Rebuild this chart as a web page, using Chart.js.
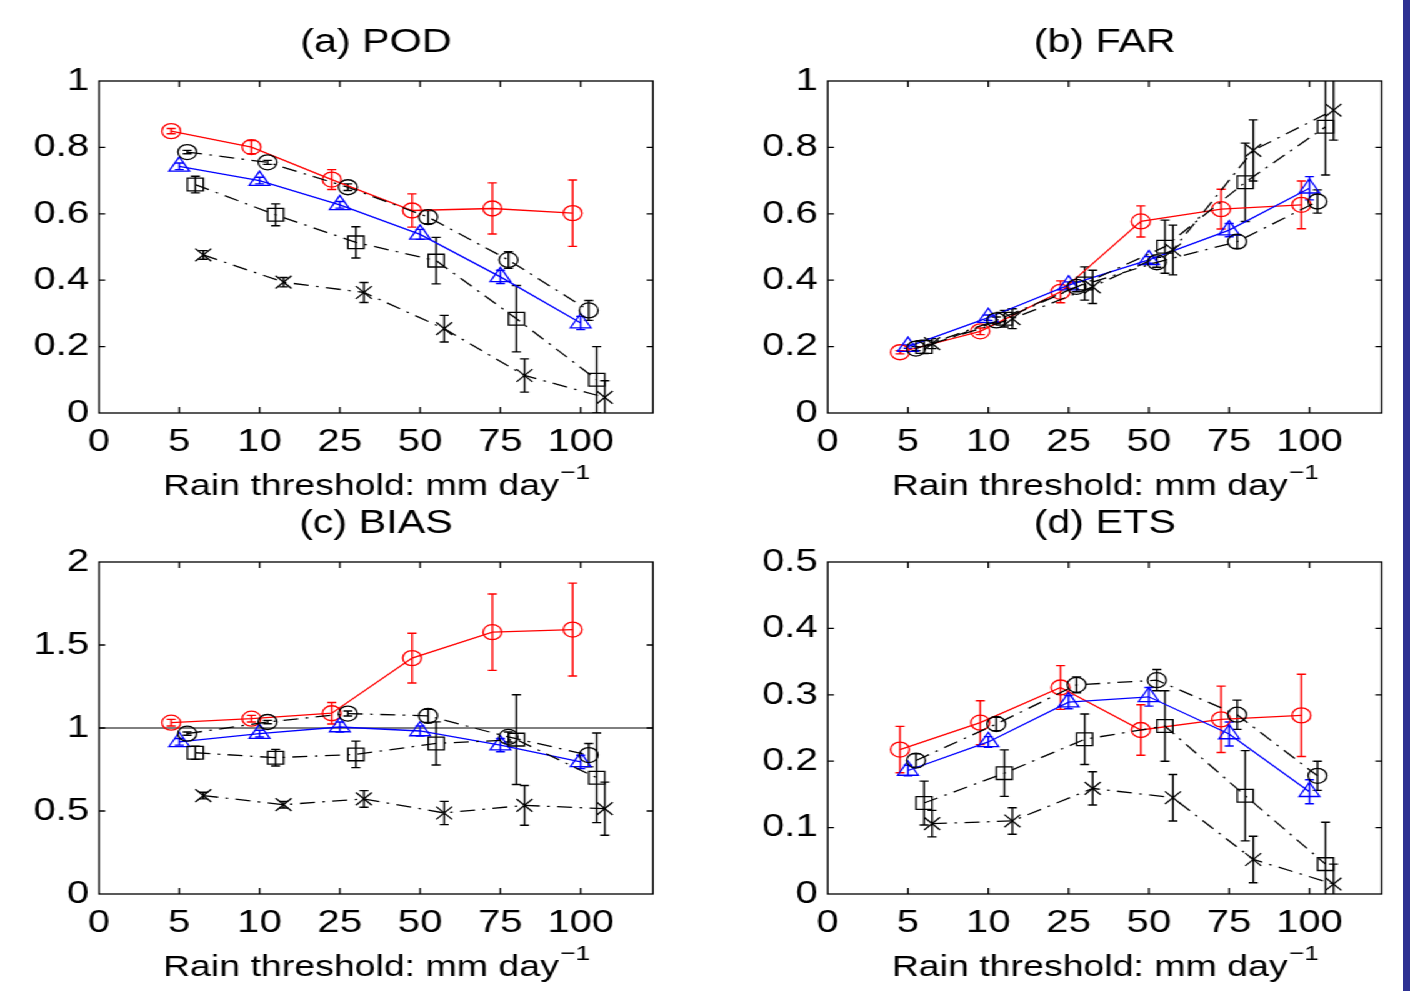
<!DOCTYPE html>
<html>
<head>
<meta charset="utf-8">
<script src="https://cdn.jsdelivr.net/npm/chart.js@4.4.1/dist/chart.umd.min.js"></script>
<style>
  html, body { margin: 0; padding: 0; background: #fff; }
  body { width: 1410px; height: 991px; overflow: hidden; position: relative; }
  /* the source figure is stretched sideways, so draw narrow and widen */
  #wrap { position: absolute; left: 0; top: 0; width: 1128px; height: 991px;
          transform: scaleX(1.25); transform-origin: 0 0; }
  .panel { position: absolute; width: 564px; height: 510px; }
  #edge { position: absolute; left: 1403px; top: 0; width: 7px; height: 991px; background: #2e3192; }
</style>
</head>
<body>
<div id="wrap">
  <div class="panel" style="left:0;top:0"><canvas id="pod"></canvas></div>
  <div class="panel" style="left:583.2px;top:0"><canvas id="far"></canvas></div>
  <div class="panel" style="left:0;top:481px"><canvas id="bias"></canvas></div>
  <div class="panel" style="left:583.2px;top:481px"><canvas id="ets"></canvas></div>
</div>
<div id="edge"></div>

<script>
const thresholds = ['0', '5', '10', '25', '50', '75', '100'];

// (a) POD
const podTicks = [0, 0.2, 0.4, 0.6, 0.8, 1];
const podRed = [0.849, 0.801, 0.703, 0.610, 0.616, 0.602];
const podRedErr = [0.008, 0.02, 0.03, 0.05, 0.077, 0.10];
const podBlue = [0.743, 0.700, 0.627, 0.538, 0.410, 0.271];
const podBlueErr = [0.01, 0.01, 0.01, 0.015, 0.02, 0.02];
const podCirc = [0.786, 0.755, 0.680, 0.590, 0.461, 0.309];
const podCircErr = [0.005, 0.006, 0.01, 0.02, 0.025, 0.03];
const podSq = [0.688, 0.597, 0.514, 0.459, 0.284, 0.100];
const podSqErr = [0.025, 0.033, 0.047, 0.07, 0.10, 0.10];
const podX = [0.476, 0.394, 0.363, 0.254, 0.113, 0.047];
const podXErr = [0.013, 0.014, 0.03, 0.04, 0.05, 0.05];

// (b) FAR
const farTicks = [0, 0.2, 0.4, 0.6, 0.8, 1];
const farRed = [0.183, 0.246, 0.365, 0.577, 0.614, 0.627];
const farRedErr = [0.005, 0.01, 0.033, 0.047, 0.06, 0.072];
const farBlue = [0.200, 0.287, 0.385, 0.461, 0.551, 0.677];
const farBlueErr = [0.005, 0.008, 0.01, 0.01, 0.02, 0.035];
const farCirc = [0.194, 0.279, 0.380, 0.454, 0.516, 0.637];
const farCircErr = [0.006, 0.01, 0.015, 0.015, 0.02, 0.035];
const farSq = [0.199, 0.284, 0.390, 0.501, 0.695, 0.862];
const farSqErr = [0.02, 0.025, 0.05, 0.08, 0.118, 0.145];
const farX = [0.209, 0.284, 0.380, 0.491, 0.791, 0.912];
const farXErr = [0.015, 0.03, 0.05, 0.075, 0.092, 0.09];

// (c) BIAS
const biasTicks = [0, 0.5, 1, 1.5, 2];
const biasRed = [1.032, 1.056, 1.089, 1.421, 1.577, 1.593];
const biasRedErr = [0.02, 0.02, 0.065, 0.15, 0.23, 0.28];
const biasBlue = [0.917, 0.966, 1.006, 0.982, 0.897, 0.796];
const biasBlueErr = [0.02, 0.02, 0.03, 0.03, 0.04, 0.04];
const biasCirc = [0.966, 1.036, 1.087, 1.073, 0.946, 0.837];
const biasCircErr = [0.01, 0.01, 0.015, 0.04, 0.03, 0.07];
const biasSq = [0.851, 0.821, 0.841, 0.907, 0.930, 0.700];
const biasSqErr = [0.04, 0.05, 0.08, 0.13, 0.27, 0.27];
const biasX = [0.593, 0.538, 0.573, 0.488, 0.534, 0.514];
const biasXErr = [0.02, 0.02, 0.05, 0.07, 0.12, 0.16];

// (d) ETS
const etsTicks = [0, 0.1, 0.2, 0.3, 0.4, 0.5];
const etsRed = [0.2175, 0.258, 0.311, 0.247, 0.263, 0.269];
const etsRedErr = [0.035, 0.033, 0.033, 0.038, 0.05, 0.062];
const etsBlue = [0.186, 0.229, 0.289, 0.297, 0.241, 0.154];
const etsBlueErr = [0.008, 0.008, 0.01, 0.014, 0.018, 0.018];
const etsCirc = [0.201, 0.256, 0.315, 0.322, 0.270, 0.178];
const etsCircErr = [0.01, 0.01, 0.012, 0.016, 0.022, 0.022];
const etsSq = [0.137, 0.182, 0.233, 0.253, 0.148, 0.045];
const etsSqErr = [0.033, 0.035, 0.038, 0.053, 0.068, 0.063];
const etsX = [0.106, 0.110, 0.159, 0.145, 0.052, 0.015];
const etsXErr = [0.02, 0.02, 0.025, 0.035, 0.035, 0.03];

const dashDot = [12, 6, 2, 6];
const seriesStyle = {
  red:  { color: '#ff0000', pointStyle: 'circle',   radius: 7.5, dash: [],      shift: -0.1 },
  blue: { color: '#0000ff', pointStyle: 'triangle', radius: 9.5, dash: [],      shift: 0 },
  circ: { color: '#000000', pointStyle: 'circle',   radius: 7.5, dash: dashDot, shift: 0.1 },
  sq:   { color: '#000000', pointStyle: 'rect',     radius: 9,   dash: dashDot, shift: 0.2 },
  x:    { color: '#000000', pointStyle: 'crossRot', radius: 9,   dash: dashDot, shift: 0.3 }
};

Chart.defaults.font.family = "'Liberation Sans', Arial, Helvetica, sans-serif";
Chart.defaults.color = '#000';

// box, inward ticks, error bars and the x label, MATLAB style
const matlabAxes = {
  id: 'matlabAxes',
  beforeDatasetsDraw(chart, args, opts) {
    const { ctx, chartArea: a, scales: { x, y } } = chart;
    ctx.save();
    ctx.beginPath();
    ctx.rect(a.left, a.top, a.right - a.left, a.bottom - a.top);
    ctx.clip();
    if (opts.refLine !== undefined) {
      const py = y.getPixelForValue(opts.refLine);
      ctx.strokeStyle = '#000';
      ctx.lineWidth = 1;
      ctx.beginPath();
      ctx.moveTo(a.left, py);
      ctx.lineTo(a.right, py);
      ctx.stroke();
    }
    chart.data.datasets.forEach(ds => {
      ctx.strokeStyle = ds.borderColor;
      ctx.lineWidth = 1.4;
      ds.errors.forEach((e, j) => {
        const p = ds.data[j];
        const px = x.getPixelForValue(p.x);
        const hi = y.getPixelForValue(p.y + e);
        const lo = y.getPixelForValue(p.y - e);
        ctx.beginPath();
        ctx.moveTo(px, hi); ctx.lineTo(px, lo);
        ctx.moveTo(px - 3.6, hi); ctx.lineTo(px + 3.6, hi);
        ctx.moveTo(px - 3.6, lo); ctx.lineTo(px + 3.6, lo);
        ctx.stroke();
      });
    });
    ctx.restore();
  },
  afterDraw(chart, args, opts) {
    const { ctx, chartArea: a, scales: { x, y } } = chart;
    ctx.save();
    ctx.strokeStyle = '#000';
    ctx.lineWidth = 1.3;
    ctx.strokeRect(a.left, a.top, a.right - a.left, a.bottom - a.top);
    ctx.beginPath();
    x.ticks.forEach(t => {
      if (t.value <= x.min) return;
      const px = x.getPixelForValue(t.value);
      ctx.moveTo(px, a.bottom); ctx.lineTo(px, a.bottom - 6);
      ctx.moveTo(px, a.top); ctx.lineTo(px, a.top + 6);
    });
    y.ticks.forEach(t => {
      if (t.value <= y.min || t.value >= y.max) return;
      const py = y.getPixelForValue(t.value);
      ctx.moveTo(a.left, py); ctx.lineTo(a.left + 5, py);
      ctx.moveTo(a.right, py); ctx.lineTo(a.right - 5, py);
    });
    ctx.stroke();

    // x label with a superscript unit
    const main = 'Rain threshold: mm day', sup = '\u22121';
    ctx.fillStyle = '#000';
    ctx.textBaseline = 'alphabetic';
    ctx.font = "30px 'Liberation Sans', Arial, sans-serif";
    const w1 = ctx.measureText(main).width;
    ctx.font = "21px 'Liberation Sans', Arial, sans-serif";
    const w2 = ctx.measureText(sup).width;
    const x0 = (a.left + a.right) / 2 - (w1 + w2) / 2;
    ctx.font = "30px 'Liberation Sans', Arial, sans-serif";
    ctx.fillText(main, x0, opts.labelBase);
    ctx.font = "21px 'Liberation Sans', Arial, sans-serif";
    ctx.fillText(sup, x0 + w1 + 1, opts.labelBase - 16);
    ctx.restore();
  }
};

function makeDataset(values, errors, key) {
  const st = seriesStyle[key];
  return {
    data: values.map((v, i) => ({ x: i + 1 + st.shift, y: v })),
    errors: errors,
    showLine: true,
    borderColor: st.color,
    borderWidth: 1.3,
    borderDash: st.dash,
    pointStyle: st.pointStyle,
    pointRadius: st.radius,
    pointBorderColor: st.color,
    pointBackgroundColor: 'rgba(0,0,0,0)',
    pointBorderWidth: 1.3,
    tension: 0
  };
}

function makeChart(id, title, yTicks, datasets, refLine) {
  new Chart(id, {
    type: 'scatter',
    data: { datasets },
    plugins: [matlabAxes],
    options: {
      responsive: true,
      maintainAspectRatio: false,
      animation: false,
      layout: { padding: { left: 0, right: 41.6, top: 0, bottom: 0 } },
      plugins: {
        legend: { display: false },
        tooltip: { enabled: false },
        title: {
          display: true,
          text: title,
          fullSize: false,
          color: '#000',
          font: { size: 33, weight: 'normal' },
          padding: { top: 23, bottom: 18.4 }
        },
        matlabAxes: { refLine: refLine, labelBase: 495 }
      },
      scales: {
        x: {
          type: 'linear',
          min: 0,
          max: 6.9,
          afterBuildTicks: s => { s.ticks = thresholds.map((t, i) => ({ value: i })); },
          afterFit: s => { s.height = 97; },
          grid: { display: false, drawTicks: false },
          border: { display: false },
          ticks: {
            callback: v => thresholds[v],
            font: { size: 32 },
            color: '#000',
            padding: 10,
            maxRotation: 0,
            autoSkip: false
          }
        },
        y: {
          min: yTicks[0],
          max: yTicks[yTicks.length - 1],
          afterBuildTicks: s => { s.ticks = yTicks.map(v => ({ value: v })); },
          afterFit: s => { s.width = 79.2; },
          grid: { display: false, drawTicks: false },
          border: { display: false },
          ticks: {
            callback: v => String(+v.toFixed(2)),
            font: { size: 32 },
            color: '#000',
            padding: 8
          }
        }
      }
    }
  });
}

makeChart('pod', '(a) POD', podTicks, [
  makeDataset(podX, podXErr, 'x'),
  makeDataset(podSq, podSqErr, 'sq'),
  makeDataset(podCirc, podCircErr, 'circ'),
  makeDataset(podBlue, podBlueErr, 'blue'),
  makeDataset(podRed, podRedErr, 'red')
]);

makeChart('far', '(b) FAR', farTicks, [
  makeDataset(farX, farXErr, 'x'),
  makeDataset(farSq, farSqErr, 'sq'),
  makeDataset(farCirc, farCircErr, 'circ'),
  makeDataset(farBlue, farBlueErr, 'blue'),
  makeDataset(farRed, farRedErr, 'red')
]);

makeChart('bias', '(c) BIAS', biasTicks, [
  makeDataset(biasX, biasXErr, 'x'),
  makeDataset(biasSq, biasSqErr, 'sq'),
  makeDataset(biasCirc, biasCircErr, 'circ'),
  makeDataset(biasBlue, biasBlueErr, 'blue'),
  makeDataset(biasRed, biasRedErr, 'red')
], 1);

makeChart('ets', '(d) ETS', etsTicks, [
  makeDataset(etsX, etsXErr, 'x'),
  makeDataset(etsSq, etsSqErr, 'sq'),
  makeDataset(etsCirc, etsCircErr, 'circ'),
  makeDataset(etsBlue, etsBlueErr, 'blue'),
  makeDataset(etsRed, etsRedErr, 'red')
]);
</script>
</body>
</html>
